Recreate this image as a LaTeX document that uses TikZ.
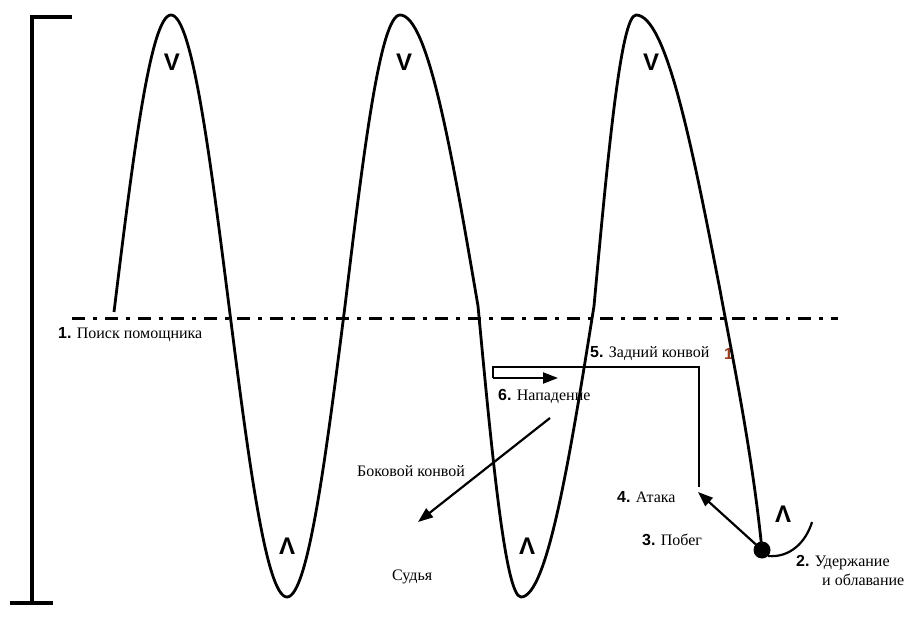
\documentclass[tikz,border=0pt]{standalone}
\usepackage{fontspec}
\setmainfont{Liberation Serif}
\newfontfamily\numfont{Liberation Sans}
\usetikzlibrary{arrows.meta}
\definecolor{numred}{RGB}{150,60,30}
\newcommand{\numlbl}[1]{{\numfont\bfseries #1}}
\begin{document}
\begin{tikzpicture}[x=1pt,y=-1pt,
  wave/.style={line width=2.8pt, line join=round},
  thin/.style={line width=2.2pt},
  lbl/.style={font=\fontsize{16}{16}\selectfont, inner sep=0pt, anchor=west},
  pk/.style={font=\numfont\bfseries\fontsize{24}{24}\selectfont, inner sep=0pt},
  tip/.style={-{Triangle[length=15pt,width=11pt]}}]
\useasboundingbox (0,0) rectangle (920,617);
% labels (drawn first so the wave passes over them)
\node[lbl] (t1) at (58,335) {\numlbl{1.} Поиск помощника};
\node[lbl] (t5) at (590,354) {\numlbl{5.} Задний конвой};
\node[lbl, text=numred] (t5n) at (724,354) {\numlbl{1}};
\node[lbl] (t6) at (498,396) {\numlbl{6.} Нападение};
\node[lbl] (tb) at (357,471) {Боковой конвой};
\node[lbl] (ts) at (392,577) {Судья};
\node[lbl] (t4) at (617,497) {\numlbl{4.} Атака};
\node[lbl] (t3) at (642,540) {\numlbl{3.} Побег};
\node[lbl] (t2) at (796,563) {\numlbl{2.} Удержание};
\node[lbl] (t2b) at (822,580) {и облавание};
% bracket
\draw[line width=3.2pt] (72,17) -- (32,17) -- (32,603);
\draw[line width=3.2pt] (10,603) -- (53,603);
% dash-dot axis
\draw[line width=3pt, dash pattern=on 13pt off 8pt on 4pt off 8pt] (72,318) -- (838,318);
% wave
\draw[wave] (114,312) sin (171,15) cos (229,306) sin (287,597) cos (345,306)
  sin (400,15) cos (478,306) sin (521,597) cos (594,306) sin (636,15)
  cos (720,290) .. controls (731,350) and (752,450) .. (762,550);
% dot and arc
\coordinate (dot) at (762,550);
\fill (dot) circle (8.5pt);
\draw[thin] (768,556) .. controls (790,558) and (806,542) .. (812,522);
% peak labels
\node[pk] (v1) at (172,62) {V};
\node[pk] (v2) at (404,62) {V};
\node[pk] (v3) at (651,62) {V};
\node[pk] (l1) at (287,546) {Λ};
\node[pk] (l2) at (527,546) {Λ};
\node[pk] (l3) at (783,514) {Λ};
% route 5/6
\coordinate (r0) at (493,378);
\coordinate (r1) at (493,367);
\coordinate (r2) at (699,367);
\coordinate (r3) at (699,487);
\coordinate (a6) at (558,378);
\draw[thin] (r3) -- (r2) -- (r1) -- (r0);
\draw[thin, tip] (r0) -- (a6);
% side convoy arrow
\coordinate (b0) at (550,418);
\coordinate (b1) at (418,522);
\draw[thin, tip] (b0) -- (b1);
% escape arrow
\coordinate (e1) at (698,492);
\draw[thin, tip] (dot) -- (e1);
\end{tikzpicture}
\end{document}
